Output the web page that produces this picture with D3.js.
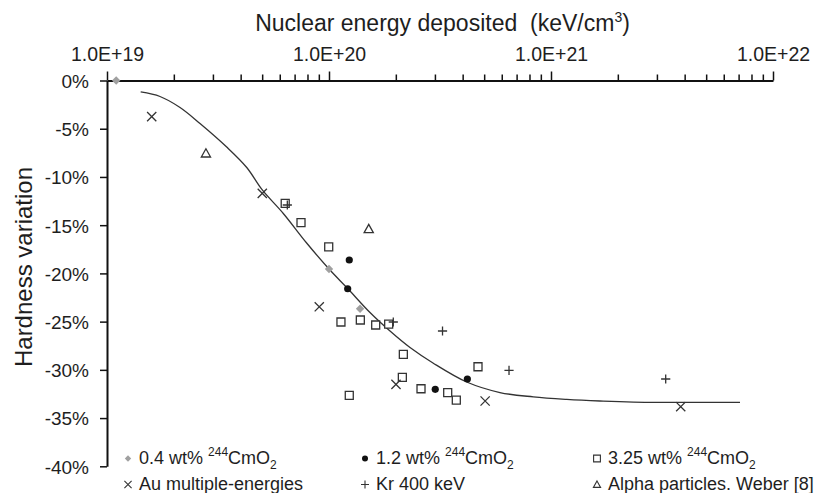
<!DOCTYPE html>
<html>
<head>
<meta charset="utf-8">
<script src="https://cdn.jsdelivr.net/npm/d3@7"></script>
<style>
  body { margin: 0; background: #fff; }
  text { font-family: "Liberation Sans", Arial, sans-serif; fill: #1e1e1e; }
</style>
</head>
<body>
<svg id="chart" width="814" height="493"></svg>
<script>
// energy (keV/cm3), hardness variation (%)
const cm04 = [[1.10e19, 0], [1.0e20, -19.55], [1.38e20, -23.66]];
const cm12 = [[1.234e20, -18.61], [1.214e20, -21.59], [3.01e20, -32.02], [4.20e20, -30.95]];
const cm325 = [
  [6.35e19, -12.73], [7.48e19, -14.74], [9.97e19, -17.26], [1.132e20, -25.04],
  [1.384e20, -24.83], [1.623e20, -25.35], [1.857e20, -25.25], [2.162e20, -28.39],
  [2.14e20, -30.78], [2.597e20, -31.96], [3.425e20, -32.37], [3.745e20, -33.13],
  [4.69e20, -29.68], [1.234e20, -32.64]
];
const auMulti = [[1.59e19, -3.75], [5.006e19, -11.70], [9.04e19, -23.46], [2.003e20, -31.50], [5.05e20, -33.23], [3.84e21, -33.82]];
const kr400 = [[6.49e19, -12.91], [1.948e20, -25.04], [3.246e20, -25.97], [6.47e20, -30.05], [3.286e21, -30.95]];
const alphaWeber = [[2.79e19, -7.55], [1.51e20, -15.40]];

const fitCurve = [
  [1.418e19, -1.19], [1.733e19, -1.66], [2.133e19, -2.80], [2.624e19, -4.46],
  [3.461e19, -6.90], [4.26e19, -9.02], [5.006e19, -11.35], [6.225e19, -13.79],
  [7.93e19, -16.85], [1.01e20, -19.65], [1.214e20, -21.57], [1.53e20, -24.06],
  [1.883e20, -25.98], [2.317e20, -27.69], [2.94e20, -29.29], [4.17e20, -31.26],
  [5.89e20, -32.35], [8.32e20, -32.80], [1.177e21, -33.06], [1.662e21, -33.23],
  [2.35e21, -33.34], [7.10e21, -33.37]
];

const decades = [1e19, 1e20, 1e21, 1e22];
const decadeLabels = ["1.0E+19", "1.0E+20", "1.0E+21", "1.0E+22"];
const yTicks = [0, -5, -10, -15, -20, -25, -30, -35, -40];

const svg = d3.select("#chart");

const x = d3.scaleLog().domain([1e19, 1e22]).range([107, 773]);
const y = d3.scaleLinear().domain([-40, 0]).range([466.3, 80.5]);

// top log axis with minor ticks
const minorTicks = [];
decades.slice(0, 3).forEach(d => { for (let k = 1; k < 10; k++) minorTicks.push(d * k); });
minorTicks.push(1e22);

const topAxis = svg.append("g")
  .attr("transform", "translate(0," + y(0) + ")")
  .call(d3.axisTop(x)
    .tickValues(minorTicks)
    .tickSize(6)
    .tickSizeOuter(0)
    .tickPadding(13.5)
    .tickFormat(d => {
      const i = decades.findIndex(v => Math.abs(v - d) / v < 1e-6);
      return i >= 0 ? decadeLabels[i] : "";
    }));
topAxis.select(".domain").attr("stroke", "#111").attr("stroke-width", 2);
topAxis.selectAll(".tick line").attr("stroke", "#111").attr("stroke-width", 1.5)
  .attr("y2", d => decades.some(v => Math.abs(v - d) / v < 1e-6) ? -9 : -6);
topAxis.selectAll(".tick text").attr("font-size", 19.5).attr("fill", "#1e1e1e")
  .style("font-family", "'Liberation Sans', Arial, sans-serif");

const leftAxis = svg.append("g")
  .attr("transform", "translate(" + x(1e19) + ",0)")
  .call(d3.axisLeft(y)
    .tickValues(yTicks)
    .tickSize(7)
    .tickSizeOuter(0)
    .tickPadding(11)
    .tickFormat(d => d + "%"));
leftAxis.select(".domain").attr("stroke", "#111").attr("stroke-width", 2);
leftAxis.selectAll(".tick line").attr("stroke", "#111").attr("stroke-width", 1.5);
leftAxis.selectAll(".tick text").attr("font-size", 19).attr("dy", "0.36em").attr("fill", "#1e1e1e")
  .style("font-family", "'Liberation Sans', Arial, sans-serif");

// titles
const title = svg.append("text")
  .attr("x", 442.5).attr("y", 31)
  .attr("text-anchor", "middle")
  .attr("font-size", 23);
title.append("tspan").text("Nuclear energy deposited\u00a0 (keV/cm");
title.append("tspan").attr("font-size", 14).attr("dy", -9).text("3");
title.append("tspan").attr("dy", 9).text(")");

svg.append("text")
  .attr("transform", "translate(32,267) rotate(-90)")
  .attr("text-anchor", "middle")
  .attr("font-size", 24)
  .text("Hardness variation");

// marker shapes (offsets around the point)
const shapes = {
  diamond: r => `M0,${-r}L${r},0L0,${r}L${-r},0Z`,
  circle: r => d3.symbol(d3.symbolCircle, Math.PI * r * r)(),
  square: r => `M${-r},${-r}H${r}V${r}H${-r}Z`,
  times: r => `M${-r},${-r}L${r},${r}M${-r},${r}L${r},${-r}`,
  plus: r => `M${-r},0H${r}M0,${-r}V${r}`,
  triangle: r => `M0,${-r}L${r},${r * 0.8}H${-r}Z`
};
const styles = {
  diamond: { fill: "#a0a0a0", stroke: "none", sw: 0 },
  circle: { fill: "#111", stroke: "none", sw: 0 },
  square: { fill: "#fff", stroke: "#333", sw: 1.3 },
  times: { fill: "none", stroke: "#333", sw: 1.3 },
  plus: { fill: "none", stroke: "#333", sw: 1.3 },
  triangle: { fill: "#fff", stroke: "#333", sw: 1.3 }
};
const plotSize = { diamond: 4.2, circle: 3.6, square: 4, times: 4.6, plus: 4.6, triangle: 4.6 };

function drawSeries(data, shape) {
  const st = styles[shape];
  svg.append("g").selectAll("path")
    .data(data)
    .join("path")
    .attr("transform", d => "translate(" + x(d[0]) + "," + y(d[1]) + ")")
    .attr("d", shapes[shape](plotSize[shape]))
    .attr("fill", st.fill)
    .attr("stroke", st.stroke)
    .attr("stroke-width", st.sw);
}

// fitted curve
svg.append("path")
  .datum(fitCurve)
  .attr("fill", "none")
  .attr("stroke", "#333")
  .attr("stroke-width", 1.3)
  .attr("d", d3.line().x(d => x(d[0])).y(d => y(d[1])).curve(d3.curveCatmullRom.alpha(0.5)));

drawSeries(cm325, "square");
drawSeries(alphaWeber, "triangle");
drawSeries(auMulti, "times");
drawSeries(kr400, "plus");
drawSeries(cm12, "circle");
drawSeries(cm04, "diamond");

// legend
const legendItems = [
  { shape: "diamond", pre: "0.4 wt% ", cm: true, col: 0, row: 0 },
  { shape: "circle", pre: "1.2 wt% ", cm: true, col: 1, row: 0 },
  { shape: "square", pre: "3.25 wt% ", cm: true, col: 2, row: 0 },
  { shape: "times", pre: "Au multiple-energies", cm: false, col: 0, row: 1 },
  { shape: "plus", pre: "Kr 400 keV", cm: false, col: 1, row: 1 },
  { shape: "triangle", pre: "Alpha particles. Weber [8]", cm: false, col: 2, row: 1 }
];
const legendCols = [128, 365, 597];
const legendRows = [464, 490];
const legendSize = { diamond: 3.2, circle: 3, square: 3.4, times: 3.6, plus: 4, triangle: 3.6 };

const legend = svg.append("g");
legendItems.forEach(it => {
  const lx = legendCols[it.col], ly = legendRows[it.row];
  const st = styles[it.shape];
  legend.append("path")
    .attr("transform", "translate(" + lx + "," + (ly - 5.5) + ")")
    .attr("d", shapes[it.shape](legendSize[it.shape]))
    .attr("fill", st.fill)
    .attr("stroke", st.stroke)
    .attr("stroke-width", st.sw ? 1.1 : 0);
  const t = legend.append("text")
    .attr("x", lx + 11).attr("y", ly)
    .attr("font-size", 18);
  t.append("tspan").text(it.pre);
  if (it.cm) {
    t.append("tspan").attr("font-size", 12).attr("dy", -8).text("244");
    t.append("tspan").attr("dy", 8).text("CmO");
    t.append("tspan").attr("font-size", 12).attr("dy", 5).text("2");
  }
});
</script>
</body>
</html>
